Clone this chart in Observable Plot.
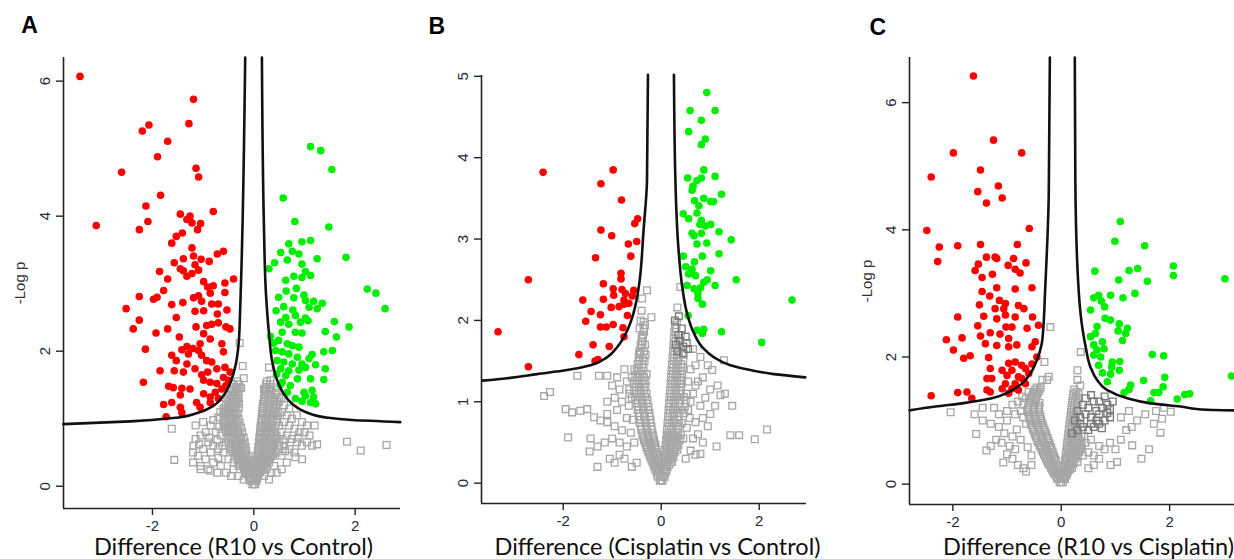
<!DOCTYPE html>
<html>
<head>
<meta charset="utf-8">
<script src="https://cdn.jsdelivr.net/npm/d3@7"></script>
<script src="https://cdn.jsdelivr.net/npm/@observablehq/plot@0.6"></script>
<style>
  html, body { margin: 0; padding: 0; background: #fff; }
  #chart { position: relative; width: 1234px; height: 559px; overflow: hidden; }
  #chart svg { position: absolute; top: 0; }
</style>
</head>
<body>
<div id="chart"></div>
<script>
// ---------------- Panel A: R10 vs Control ----------------
const letterA = "A";
const titleA = "Difference (R10 vs Control)";
const yLabel = "-Log p";
const xTicksA = [-2, 0, 2];
const yTicksA = [0, 2, 4, 6];
const redA = [[-3.43,6.07],[-1.19,5.73],[-1.28,5.37],[-2.07,5.35],[-2.20,5.26],[-1.70,5.11],[-1.90,4.88],[-2.61,4.65],[-1.14,4.71],[-1.09,4.58],[-1.84,4.31],[-2.13,4.15],[-0.80,4.07],[-1.45,4.03],[-3.11,3.86],[-2.09,3.92],[-2.26,3.80],[-1.26,4.00],[-1.32,3.95],[-1.22,3.90],[-1.05,3.89],[-1.11,3.80],[-1.41,3.75],[-1.53,3.70],[-1.62,3.60],[-0.60,3.48],[-0.72,3.44],[-1.22,3.53],[-1.39,3.37],[-1.19,3.41],[-1.57,3.31],[-1.04,3.36],[-0.88,3.33],[-1.45,3.22],[-1.39,3.19],[-1.16,3.28],[-1.09,3.20],[-1.22,3.15],[-1.86,3.18],[-1.70,3.07],[-1.32,3.11],[-0.99,3.03],[-0.40,3.07],[-0.57,3.01],[-0.91,2.95],[-0.80,2.97],[-1.78,2.90],[-2.26,2.81],[-1.98,2.77],[-1.91,2.80],[-1.62,2.69],[-1.40,2.72],[-1.19,2.79],[-1.09,2.82],[-0.86,2.86],[-0.57,2.87],[-1.03,2.74],[-0.83,2.70],[-2.52,2.63],[-1.16,2.59],[-0.99,2.60],[-0.70,2.70],[-0.53,2.61],[-1.53,2.50],[-0.72,2.55],[-2.26,2.46],[-2.38,2.33],[-1.93,2.27],[-1.70,2.33],[-1.47,2.21],[-1.14,2.36],[-0.93,2.38],[-0.83,2.40],[-0.70,2.42],[-0.55,2.36],[-0.47,2.33],[-0.99,2.26],[-0.86,2.18],[-0.63,2.11],[-1.06,2.11],[-2.14,2.03],[-1.42,2.02],[-1.32,2.07],[-1.20,2.04],[-1.09,2.01],[-1.62,1.94],[-1.53,1.86],[-1.29,1.96],[-1.03,1.94],[-0.93,1.86],[-0.83,1.84],[-0.60,1.99],[-0.57,1.76],[-1.32,1.81],[-1.85,1.71],[-1.57,1.71],[-1.39,1.69],[-1.16,1.74],[-1.03,1.65],[-0.91,1.69],[-0.73,1.74],[-0.47,1.69],[-2.18,1.54],[-1.68,1.48],[-1.59,1.46],[-1.42,1.45],[-1.26,1.44],[-0.99,1.57],[-0.86,1.54],[-0.73,1.52],[-0.60,1.61],[-0.50,1.57],[-1.45,1.35],[-1.78,1.21],[-1.62,1.24],[-1.45,1.17],[-1.13,1.24],[-0.99,1.37],[-0.86,1.32],[-0.76,1.39],[-0.63,1.44],[-0.55,1.49],[-1.06,1.17],[-1.73,1.03],[-1.42,1.09],[-0.86,1.24],[-0.70,1.30]];
const greenA = [[1.12,5.03],[1.32,4.97],[1.54,4.69],[0.58,4.27],[0.81,3.92],[1.48,3.84],[0.69,3.59],[0.95,3.62],[1.12,3.64],[0.53,3.46],[0.76,3.48],[0.89,3.44],[0.66,3.35],[1.25,3.37],[1.82,3.39],[0.41,3.31],[0.30,3.22],[0.95,3.29],[1.02,3.18],[0.79,3.11],[0.63,3.05],[0.95,3.09],[1.12,3.12],[0.84,2.93],[2.24,2.92],[2.41,2.86],[2.59,2.63],[0.49,2.80],[0.64,2.89],[0.79,2.79],[0.99,2.83],[1.02,2.75],[1.18,2.74],[1.35,2.71],[1.09,2.65],[1.25,2.63],[0.44,2.60],[0.59,2.66],[0.77,2.61],[0.63,2.50],[0.82,2.53],[1.02,2.49],[0.53,2.43],[0.69,2.40],[0.92,2.43],[1.07,2.45],[1.59,2.44],[1.88,2.36],[0.56,2.28],[0.82,2.28],[0.95,2.27],[1.41,2.29],[1.63,2.21],[0.33,2.22],[0.39,2.12],[0.49,2.16],[0.66,2.11],[0.76,2.08],[0.89,2.06],[0.43,2.01],[0.56,1.99],[0.69,1.96],[0.86,1.91],[1.15,1.95],[1.38,1.99],[1.55,2.01],[1.09,1.89],[0.46,1.86],[0.59,1.84],[0.76,1.81],[0.95,1.81],[1.22,1.80],[0.53,1.74],[0.69,1.71],[0.89,1.72],[1.02,1.76],[1.41,1.74],[0.45,1.66],[0.63,1.64],[0.86,1.59],[1.12,1.59],[1.38,1.58],[0.56,1.54],[0.72,1.49],[0.52,1.50],[0.66,1.39],[0.99,1.39],[1.15,1.42],[1.02,1.34],[1.18,1.32],[0.82,1.30],[1.12,1.24],[1.22,1.22],[0.95,1.26]];
// dense centre of the grey "V": rows of [-log p, [differences...]]
const grayCoreA = [
  [0.03,[-0.03,0,0.03]],[0.08,[-0.07,-0.03,0.01,0.05]],[0.13,[-0.1,-0.06,0.03,0.07]],
  [0.18,[-0.14,-0.09,-0.04,0.05,0.1]],[0.24,[-0.18,-0.12,-0.07,0.06,0.11,0.16]],
  [0.3,[-0.22,-0.15,-0.09,0.07,0.13,0.19]],[0.36,[-0.26,-0.19,-0.12,0.08,0.15,0.22]],
  [0.42,[-0.3,-0.22,-0.14,0.09,0.16,0.24,0.32]],[0.48,[-0.34,-0.26,-0.17,0.1,0.18,0.26,0.34]],
  [0.55,[-0.38,-0.29,-0.2,0.11,0.19,0.28,0.37]],[0.62,[-0.42,-0.32,-0.22,0.12,0.2,0.3,0.4]],
  [0.69,[-0.45,-0.35,-0.25,0.13,0.22,0.32,0.42]],[0.76,[-0.48,-0.38,-0.28,0.14,0.23,0.34]],
  [0.83,[-0.5,-0.4,-0.3,0.15,0.24,0.35]],[0.9,[-0.52,-0.42,-0.32,0.16,0.26,0.36]],
  [0.97,[-0.54,-0.44,-0.34,0.17,0.27,0.38]],[1.04,[-0.55,-0.45,-0.36,0.18,0.28,0.4]],
  [1.11,[-0.56,-0.46,-0.38,0.19,0.3,0.42]],[1.18,[-0.5,-0.42,-0.35,0.2,0.31,0.44]],
  [1.25,[-0.48,-0.4,-0.33,0.21,0.32,0.46]],[1.32,[-0.44,-0.36,0.22,0.33,0.5]],
  [1.4,[-0.4,-0.32,0.23,0.34]],[1.47,[-0.36,-0.28,0.25,0.35]],[1.55,[-0.32,0.26]],
  [0.11,[-0.08,-0.01,0.06]],[0.21,[-0.16,-0.11,-0.06,0.08,0.13]],[0.27,[-0.2,-0.14,-0.08,0.04,0.09,0.14,0.2]],
  [0.33,[-0.28,-0.2,-0.13,-0.06,0.05,0.1,0.17,0.24]],[0.39,[-0.32,-0.24,-0.16,-0.08,0.06,0.12,0.19,0.27]],
  [0.45,[-0.38,-0.3,-0.2,-0.1,0.07,0.13,0.21,0.29,0.38]],[0.52,[-0.42,-0.33,-0.24,-0.15,0.08,0.15,0.23,0.32,0.42]],
  [0.58,[-0.46,-0.35,-0.25,-0.16,0.09,0.16,0.25,0.34]],[0.65,[-0.5,-0.38,-0.28,-0.18,0.1,0.17,0.27,0.36,0.46]],
  [0.72,[-0.52,-0.41,-0.3,-0.2,0.11,0.19,0.29,0.38]],[0.8,[-0.55,-0.44,-0.33,-0.23,0.12,0.2,0.3,0.4]],
  [0.87,[-0.57,-0.46,-0.36,-0.25,0.13,0.21,0.31,0.42]],[0.94,[-0.58,-0.48,-0.38,-0.28,0.14,0.22,0.33,0.44]],
  [1.0,[-0.6,-0.5,-0.4,-0.3,0.15,0.24,0.34,0.46]],[1.08,[-0.6,-0.5,-0.41,-0.32,0.16,0.25,0.36,0.48]],
  [1.15,[-0.58,-0.47,-0.39,-0.3,0.17,0.26,0.38]],[1.22,[-0.55,-0.45,-0.37,-0.29,0.18,0.27,0.39]],
  [1.29,[-0.52,-0.42,-0.34,0.2,0.28,0.4]],[1.36,[-0.48,-0.38,-0.3,0.21,0.3,0.42]],
  [1.44,[-0.44,-0.34,0.22,0.31]],[1.51,[-0.4,-0.3,0.24,0.32]]
];
const grayA = [[-0.3,0.3],[-0.4,0.35],[-0.5,0.4],[-0.35,0.5],[-0.45,0.55],[-0.6,0.5],[-0.7,0.55],[-0.55,0.65],[-0.8,0.6],[-0.9,0.65],[-0.65,0.75],[-0.75,0.8],[-0.95,0.8],[-1.05,0.75],[-1.15,0.7],[-0.5,0.85],[-0.6,0.9],[-0.85,0.9],[-1.0,0.95],[-1.15,0.9],[-0.45,1.0],[-0.55,1.05],[-0.7,1.02],[-0.5,1.15],[-0.6,1.15],[-0.3,1.3],[-0.25,1.45],[-0.2,1.6],[-0.28,2.12],[-0.22,1.78],[-1.2,0.5],[-1.1,0.45],[-0.95,0.4],[-0.8,0.35],[-0.65,0.3],[-1.05,0.3],[-1.2,0.35],[-0.9,0.25],[-0.72,0.2],[-0.55,0.2],[-0.45,0.15],[-1.57,0.39],[-1.62,0.85],[-1.05,0.25],[-0.86,0.23],[-0.4,0.25],[-0.3,0.15],[-0.2,0.1],[-1.19,0.6],[-1.0,0.55],[-0.85,0.5],[-0.7,0.42],[-0.62,0.6],[-0.72,0.68],[-0.88,0.72],[-1.08,0.62],[-0.68,0.88],[-0.8,0.98],[-0.66,1.1],
[0.25,0.25],[0.3,0.35],[0.4,0.3],[0.35,0.45],[0.45,0.5],[0.55,0.45],[0.4,0.6],[0.5,0.65],[0.6,0.6],[0.7,0.55],[0.8,0.5],[0.45,0.75],[0.55,0.8],[0.65,0.75],[0.75,0.7],[0.85,0.65],[0.95,0.6],[1.05,0.65],[1.15,0.6],[1.25,0.62],[0.5,0.9],[0.6,0.95],[0.7,0.9],[0.8,0.85],[0.9,0.8],[1.0,0.8],[1.1,0.75],[1.2,0.9],[0.45,1.05],[0.55,1.1],[0.65,1.05],[0.75,1.0],[0.4,1.2],[0.5,1.25],[0.6,1.2],[0.35,1.35],[0.45,1.38],[0.3,1.76],[0.33,1.57],[0.3,1.42],[0.2,1.44],[1.84,0.66],[2.11,0.53],[2.62,0.61],[0.95,0.4],[0.82,0.43],[0.35,0.2],[0.45,0.2],[0.55,0.25],[0.65,0.35],[0.3,0.1],[0.2,0.15],[0.55,1.3],[0.7,1.15],[0.85,1.05],[0.95,0.95],[1.05,0.9],[0.62,0.52],[0.72,0.65],[0.88,0.72],[0.5,0.55],[0.58,0.68]];
const curveLeftA = [[-0.17,6.35],[-0.24,3.34],[-0.27,2.60],[-0.30,2.11],[-0.37,1.76],[-0.47,1.52],[-0.60,1.34],[-0.80,1.19],[-1.13,1.08],[-1.59,1.01],[-2.44,0.96],[-3.76,0.92]];
const curveRightA = [[0.16,6.35],[0.20,3.84],[0.24,2.85],[0.30,2.26],[0.36,1.86],[0.46,1.57],[0.59,1.37],[0.76,1.22],[1.02,1.10],[1.41,1.02],[1.94,0.98],[2.89,0.95]];

// ---------------- Panel B: Cisplatin vs Control ----------------
const letterB = "B";
const titleB = "Difference (Cisplatin vs Control)";
const xTicksB = [-2, 0, 2];
const yTicksB = [0, 1, 2, 3, 4, 5];
const redB = [[-2.41,3.82],[-0.98,3.85],[-1.23,3.68],[-0.81,3.48],[-0.48,3.25],[-0.54,3.19],[-1.23,3.11],[-1.01,3.04],[-0.67,2.94],[-0.50,2.97],[-1.34,2.77],[-0.62,2.79],[-2.71,2.50],[-0.82,2.58],[-0.82,2.51],[-1.18,2.45],[-0.98,2.39],[-0.80,2.38],[-0.73,2.33],[-0.56,2.37],[-0.59,2.30],[-1.60,2.25],[-1.18,2.26],[-0.97,2.31],[-0.76,2.25],[-0.66,2.21],[-1.43,2.11],[-1.02,2.16],[-0.86,2.17],[-0.76,2.20],[-1.24,2.07],[-0.69,2.06],[-1.54,1.99],[-1.24,1.92],[-1.12,1.92],[-0.98,1.95],[-0.78,1.91],[-3.33,1.86],[-0.76,1.80],[-1.39,1.70],[-1.06,1.68],[-1.68,1.58],[-1.35,1.50],[-1.29,1.52],[-2.71,1.43]];
const greenB = [[0.93,4.80],[0.59,4.58],[1.10,4.58],[0.82,4.46],[0.56,4.32],[0.90,4.23],[0.82,4.16],[0.87,3.85],[0.54,3.75],[0.73,3.72],[0.82,3.75],[1.10,3.77],[0.65,3.65],[0.63,3.60],[1.23,3.55],[0.87,3.50],[0.68,3.47],[0.77,3.41],[1.01,3.46],[1.07,3.46],[0.45,3.31],[0.56,3.25],[0.73,3.32],[0.82,3.23],[0.79,3.18],[0.90,3.16],[1.01,3.18],[0.63,3.07],[0.67,3.04],[0.82,3.07],[1.18,3.09],[0.73,2.94],[0.93,2.95],[1.43,2.99],[1.18,2.82],[0.45,2.79],[0.84,2.79],[0.68,2.72],[0.50,2.66],[0.63,2.63],[1.01,2.61],[0.56,2.57],[0.70,2.55],[0.87,2.47],[0.94,2.50],[1.53,2.50],[0.53,2.43],[0.67,2.39],[0.80,2.40],[1.10,2.43],[0.75,2.33],[0.75,2.27],[0.84,2.20],[2.67,2.25],[0.55,2.06],[0.73,1.88],[0.87,1.89],[1.23,1.86],[2.05,1.73],[0.84,1.84]];
const grayCoreB = [
  [0.03,[-0.03,0,0.03]],[0.08,[-0.07,-0.02,0.03,0.07]],[0.14,[-0.1,-0.05,0.05,0.1]],
  [0.2,[-0.14,-0.08,0.07,0.13]],[0.26,[-0.18,-0.11,0.08,0.15,0.22]],[0.32,[-0.22,-0.14,0.1,0.17,0.25]],
  [0.38,[-0.26,-0.17,-0.1,0.11,0.19,0.28]],[0.44,[-0.3,-0.2,-0.12,0.12,0.2,0.3]],
  [0.5,[-0.33,-0.23,-0.14,0.13,0.21,0.32]],[0.56,[-0.36,-0.26,-0.16,0.14,0.22,0.33]],
  [0.62,[-0.38,-0.28,-0.18,0.15,0.23,0.34]],[0.7,[-0.4,-0.3,-0.2,0.16,0.25,0.35]],
  [0.78,[-0.42,-0.32,-0.22,0.17,0.26,0.36]],[0.86,[-0.44,-0.34,-0.24,0.18,0.27,0.37,0.46]],
  [0.94,[-0.46,-0.36,-0.26,0.19,0.28,0.38,0.48]],[1.02,[-0.48,-0.38,-0.28,0.2,0.29,0.39,0.5]],
  [1.1,[-0.5,-0.4,-0.3,0.21,0.3,0.4,0.52]],[1.18,[-0.52,-0.42,-0.32,0.22,0.31,0.41]],
  [1.26,[-0.5,-0.4,-0.32,0.23,0.32,0.42]],[1.34,[-0.48,-0.38,-0.3,0.24,0.33,0.43]],
  [1.42,[-0.46,-0.36,0.25,0.34,0.44]],[1.5,[-0.44,-0.34,0.26,0.35,0.45]],
  [1.58,[-0.42,-0.32,0.27,0.36,0.46]],[1.66,[-0.4,0.28,0.37]],[1.74,[-0.38,0.29,0.38]],
  [1.82,[-0.37,0.3,0.4]],[1.9,[-0.36,0.31]],[1.98,[-0.36,0.32]],
  [0.11,[-0.08,-0.01,0.06]],[0.17,[-0.12,-0.06,0.06,0.11]],[0.23,[-0.16,-0.1,-0.04,0.05,0.11,0.17]],
  [0.29,[-0.2,-0.13,-0.06,0.06,0.13,0.2]],[0.35,[-0.24,-0.16,-0.08,0.07,0.15,0.23]],
  [0.41,[-0.28,-0.19,-0.1,0.08,0.16,0.25,0.33]],[0.47,[-0.31,-0.22,-0.12,0.09,0.17,0.26,0.35]],
  [0.53,[-0.35,-0.25,-0.15,0.1,0.18,0.28,0.38]],[0.59,[-0.38,-0.27,-0.17,0.11,0.19,0.29,0.4]],
  [0.66,[-0.41,-0.3,-0.2,0.12,0.2,0.31]],[0.74,[-0.44,-0.33,-0.22,0.13,0.22,0.32,0.42]],
  [0.82,[-0.46,-0.35,-0.24,0.14,0.23,0.33]],[0.9,[-0.48,-0.37,-0.27,0.15,0.24,0.34,0.44]],
  [0.98,[-0.5,-0.4,-0.3,0.16,0.25,0.35]],[1.06,[-0.53,-0.43,-0.33,0.17,0.26,0.36,0.46]],
  [1.14,[-0.55,-0.45,-0.35,0.18,0.27,0.37]],[1.22,[-0.55,-0.46,-0.36,0.19,0.28,0.38]],
  [1.3,[-0.53,-0.44,-0.35,0.2,0.29,0.39]],[1.38,[-0.5,-0.41,0.21,0.3,0.4]],
  [1.46,[-0.48,-0.39,0.22,0.31,0.41]],[1.54,[-0.46,-0.37,0.23,0.32]],[1.62,[-0.44,-0.35,0.24,0.33]],
  [1.7,[-0.4,-0.33,0.25,0.34]],[1.78,[-0.38,0.26,0.35]],[1.86,[-0.35,0.27]],[1.94,[-0.33,0.28]]
];
const grayB = [[-0.45,1.6],[-0.42,1.7],[-0.4,1.8],[-0.44,1.9],[-0.42,2.0],[-0.39,2.27],[-0.29,2.37],[-0.2,2.04],[-0.4,2.12],[0.33,2.16],[0.39,2.41],[0.3,1.9],
[-0.6,1.05],[-0.65,1.15],[-0.7,1.25],[-0.6,1.3],[-0.55,1.4],[-0.65,1.1],[0.55,0.9],[0.6,1.0],[0.65,1.1],[0.7,1.2],[0.55,1.25],[0.6,1.4],[0.7,1.45],
[-0.75,0.3],[-0.85,0.35],[-0.95,0.25],[-0.7,0.45],[-0.85,0.5],[-1.0,0.55],[-1.15,0.5],[-1.3,0.45],[-1.44,0.55],[-0.8,0.65],[-0.95,0.7],[-1.1,0.75],[-1.24,0.77],[-1.37,0.81],[-1.1,0.85],[-1.51,0.91],[-1.65,0.89],[-1.82,0.87],[-1.95,0.91],[-0.9,0.9],[-0.8,1.0],[-0.95,1.05],[-1.1,1.0],[-0.85,1.15],[-1.0,1.2],[-1.1,1.32],[-1.27,1.32],[-1.71,1.32],[-2.39,1.07],[-2.27,1.12],[-1.9,0.56],[-1.46,0.39],[-1.3,0.2],[-1.05,0.3],[-0.6,0.2],[-0.5,0.25],[-0.9,1.3],[-0.75,1.4],[-0.55,0.5],[-0.62,0.62],[-0.7,0.8],[-0.58,0.78],[-0.66,0.95],
[0.5,0.3],[0.6,0.4],[0.7,0.35],[0.8,0.36],[0.65,0.55],[0.75,0.6],[0.85,0.5],[0.95,0.7],[0.7,0.75],[0.85,0.8],[1.0,0.85],[1.1,0.95],[0.8,0.95],[0.9,1.05],[1.0,1.15],[0.75,1.25],[0.85,1.3],[0.95,1.45],[1.04,1.39],[1.21,1.08],[1.45,0.95],[1.28,1.51],[1.41,0.59],[1.59,0.59],[1.91,0.54],[2.16,0.66],[1.13,0.45],[0.8,1.55],[0.65,1.65],[1.15,1.2],[1.3,1.1],[0.45,0.55],[0.52,0.68],[0.58,0.8]];
const darkB = [[0.3,1.7],[0.38,1.75],[0.45,1.68],[0.52,1.72],[0.35,1.82],[0.42,1.9],[0.5,1.8],[0.28,2.0],[0.36,2.05],[0.55,1.65],[0.44,1.6],[0.33,1.62]];
const curveLeftB = [[-0.27,5.02],[-0.29,3.72],[-0.36,3.11],[-0.44,2.49],[-0.49,2.29],[-0.57,2.08],[-0.69,1.88],[-0.90,1.67],[-1.10,1.55],[-1.44,1.45],[-1.92,1.39],[-2.53,1.34],[-3.14,1.29],[-3.65,1.26]];
const curveRightB = [[0.26,5.02],[0.29,3.72],[0.35,2.90],[0.43,2.41],[0.53,2.08],[0.67,1.84],[0.84,1.67],[1.07,1.55],[1.41,1.45],[1.82,1.39],[2.30,1.34],[2.94,1.30]];

// ---------------- Panel C: R10 vs Cisplatin ----------------
const letterC = "C";
const titleC = "Difference (R10 vs Cisplatin)";
const xTicksC = [-2, 0, 2];
const yTicksC = [0, 2, 4, 6];
const redC = [[-1.62,6.42],[-1.25,5.41],[-1.99,5.21],[-0.73,5.21],[-1.49,4.94],[-2.40,4.83],[-1.16,4.69],[-1.54,4.60],[-1.09,4.50],[-1.38,4.42],[-2.48,3.99],[-0.59,4.02],[-2.25,3.73],[-1.91,3.75],[-1.49,3.77],[-0.81,3.77],[-2.28,3.50],[-1.38,3.57],[-1.22,3.57],[-1.19,3.55],[-0.88,3.55],[-0.65,3.48],[-1.53,3.46],[-0.98,3.44],[-0.85,3.38],[-1.59,3.36],[-0.76,3.32],[-1.46,3.25],[-1.27,3.30],[-0.54,3.09],[-1.19,3.09],[-0.85,3.07],[-1.46,3.03],[-1.32,2.96],[-1.14,2.89],[-1.03,2.84],[-0.79,2.81],[-1.51,2.82],[-1.22,2.76],[-1.06,2.76],[-0.69,2.76],[-1.43,2.64],[-1.91,2.63],[-1.19,2.60],[-1.03,2.66],[-0.85,2.63],[-0.53,2.63],[-0.42,2.50],[-1.54,2.49],[-1.02,2.47],[-0.91,2.47],[-0.63,2.45],[-2.12,2.27],[-1.83,2.30],[-1.49,2.33],[-1.31,2.38],[-1.13,2.36],[-0.97,2.29],[-0.48,2.24],[-1.99,2.11],[-1.40,2.21],[-1.19,2.18],[-0.97,2.16],[-0.82,2.19],[-0.54,2.16],[-1.80,1.98],[-1.68,2.02],[-1.34,1.99],[-0.97,1.90],[-0.85,1.92],[-0.73,1.87],[-0.54,1.89],[-0.45,2.00],[-1.31,1.82],[-1.09,1.79],[-0.91,1.79],[-0.66,1.82],[-1.28,1.66],[-1.00,1.71],[-0.79,1.69],[-0.60,1.74],[-1.37,1.66],[-1.03,1.58],[-0.85,1.58],[-0.66,1.58],[-1.09,1.50],[-0.91,1.50],[-0.73,1.66],[-2.40,1.39],[-1.91,1.44],[-1.74,1.45],[-1.65,1.35],[-1.37,1.48],[-1.31,1.45],[-0.97,1.43],[-0.79,1.48]];
const greenC = [[1.09,4.13],[0.99,3.82],[1.54,3.75],[0.62,3.35],[1.25,3.36],[1.41,3.39],[2.07,3.43],[2.07,3.28],[3.02,3.23],[1.06,3.21],[1.59,3.19],[1.36,3.00],[0.91,2.97],[1.14,2.93],[0.60,2.93],[0.69,2.97],[0.74,2.88],[0.80,2.79],[0.54,2.74],[0.81,2.61],[0.91,2.58],[0.66,2.48],[1.07,2.52],[1.22,2.45],[1.05,2.41],[1.19,2.37],[1.13,2.26],[0.54,2.32],[0.63,2.37],[0.60,2.19],[0.76,2.24],[0.66,2.11],[0.79,2.13],[1.68,2.04],[1.89,2.02],[0.60,2.03],[0.73,2.00],[0.94,1.92],[1.08,1.93],[0.69,1.87],[0.93,1.84],[1.07,1.79],[0.76,1.75],[0.91,1.73],[0.85,1.61],[1.52,1.63],[1.91,1.68],[3.14,1.70],[1.28,1.56],[1.25,1.49],[1.16,1.44],[1.88,1.53],[1.71,1.44],[1.80,1.44],[1.65,1.31],[2.14,1.34],[2.28,1.41],[2.37,1.42]];
const grayCoreC = [
  [0.03,[-0.03,0,0.03]],[0.08,[-0.07,-0.02,0.03,0.07]],[0.14,[-0.11,-0.05,0.04,0.1]],
  [0.2,[-0.15,-0.09,0.06,0.12]],[0.26,[-0.19,-0.12,0.07,0.14,0.2]],[0.33,[-0.24,-0.16,0.09,0.16,0.23]],
  [0.4,[-0.28,-0.2,-0.12,0.1,0.18,0.26]],[0.47,[-0.32,-0.24,-0.15,0.12,0.2,0.28]],
  [0.54,[-0.36,-0.27,-0.18,0.13,0.22,0.3]],[0.61,[-0.4,-0.3,-0.21,0.15,0.24,0.33]],
  [0.68,[-0.44,-0.34,-0.24,0.16,0.25,0.35]],[0.75,[-0.47,-0.37,-0.27,0.17,0.27,0.37]],
  [0.82,[-0.5,-0.4,-0.3,0.18,0.28]],[0.89,[-0.53,-0.43,-0.33,0.19,0.29]],
  [0.96,[-0.56,-0.46,-0.36,0.2,0.3]],[1.03,[-0.58,-0.48,-0.38,0.21]],
  [1.1,[-0.6,-0.5,-0.4,0.22]],[1.17,[-0.62,-0.52,-0.42,0.23]],[1.24,[-0.6,-0.5,-0.42,0.24]],
  [1.31,[-0.58,-0.48,0.25]],[1.38,[-0.55,-0.46,0.27]],[1.45,[-0.5,-0.42,0.28]],[1.52,[-0.45,-0.38]],
  [0.11,[-0.08,-0.01,0.06]],[0.17,[-0.13,-0.07,0.05,0.11]],[0.23,[-0.17,-0.11,-0.05,0.05,0.1,0.16]],
  [0.3,[-0.22,-0.15,-0.08,0.06,0.12,0.18]],[0.37,[-0.26,-0.18,-0.1,0.07,0.14,0.21]],
  [0.44,[-0.3,-0.22,-0.13,0.08,0.15,0.23,0.31]],[0.51,[-0.34,-0.25,-0.16,0.09,0.17,0.25,0.33]],
  [0.58,[-0.38,-0.29,-0.19,0.1,0.18,0.27,0.36]],[0.65,[-0.42,-0.32,-0.22,0.11,0.2,0.29]],
  [0.72,[-0.45,-0.35,-0.25,0.12,0.21,0.31]],[0.79,[-0.48,-0.38,-0.28,0.13,0.22,0.32]],
  [0.86,[-0.52,-0.41,-0.31,0.14,0.24]],[0.93,[-0.55,-0.44,-0.34,0.15,0.25]],
  [1.0,[-0.57,-0.47,-0.37,0.16,0.26]],[1.07,[-0.59,-0.49,-0.39,0.17,0.27]],
  [1.14,[-0.61,-0.51,-0.41,0.18,0.28]],[1.21,[-0.61,-0.51,-0.41,0.19,0.29]],
  [1.28,[-0.59,-0.49,-0.4,0.2,0.3]],[1.35,[-0.56,-0.47,0.21,0.31]],
  [1.42,[-0.52,-0.44,0.22,0.32]],[1.49,[-0.48,-0.4,0.24]]
];
const grayC = [[0.35,1.55],[0.3,1.64],[-0.35,1.64],[-0.26,1.64],[-0.23,1.69],[-0.31,1.92],[-0.2,2.47],[0.36,2.08],[0.3,1.79],
[-0.65,0.95],[-0.7,1.05],[-0.75,1.15],[-0.7,1.25],[-0.65,1.35],[-0.6,1.45],[-0.8,1.3],[-0.72,1.38],
[-0.8,0.3],[-0.9,0.4],[-1.0,0.47],[-1.07,0.34],[-0.85,0.55],[-0.95,0.6],[-1.1,0.65],[-1.2,0.7],[-0.9,0.75],[-1.05,0.8],[-1.15,0.9],[-1.3,0.95],[-1.45,1.0],[-1.0,1.0],[-0.85,1.1],[-1.0,1.15],[-1.15,1.1],[-1.24,1.2],[-0.9,1.25],[-1.57,0.79],[-1.38,0.53],[-2.04,1.13],[-0.65,0.2],[-0.7,0.25],[-0.55,0.3],[-1.3,0.6],[-1.6,1.1],[-1.45,1.2],[-0.55,0.45],[-0.62,0.58],[-0.75,0.7],[-0.82,0.86],
[0.2,0.3],[0.3,0.35],[0.4,0.45],[0.35,0.55],[0.5,0.5],[0.6,0.45],[0.45,0.65],[0.55,0.7],[0.7,0.6],[0.8,0.55],[0.91,0.3],[1.03,0.35],[1.31,0.61],[1.48,0.4],[1.62,0.55],[1.83,0.81],[2.02,1.14],[1.86,1.03],[1.71,0.95],[1.1,0.7],[1.2,0.85],[1.3,0.9],[1.4,1.0],[1.55,1.1],[1.75,1.15],[1.9,1.2],[1.1,1.05],[1.25,1.15],[0.9,0.65],[1.0,0.55],[0.7,0.4],[0.6,0.3],[0.5,0.25],[0.38,0.62],[0.42,0.75]];
const darkC = [[0.2,0.8],[0.3,0.85],[0.4,0.9],[0.5,0.85],[0.6,0.9],[0.7,0.95],[0.8,1.0],[0.9,1.05],[0.25,1.0],[0.35,1.05],[0.45,1.1],[0.55,1.05],[0.65,1.15],[0.75,1.2],[0.85,1.25],[0.95,1.3],[0.5,1.2],[0.6,1.3],[0.4,1.25],[0.3,1.15],[0.7,1.1],[0.85,1.12],[0.55,0.95],[0.45,1.35],[0.35,0.95],[0.65,1.0],[0.75,0.88],[0.9,1.18],[0.55,1.4],[0.7,1.3],[0.8,1.38]];
const curveLeftC = [[-0.21,6.71],[-0.23,4.57],[-0.30,3.00],[-0.33,2.47],[-0.36,2.21],[-0.45,1.95],[-0.57,1.74],[-0.73,1.58],[-0.97,1.45],[-1.28,1.35],[-1.83,1.27],[-2.32,1.22],[-2.80,1.16]];
const curveRightC = [[0.25,6.71],[0.26,4.78],[0.31,3.21],[0.37,2.58],[0.45,2.16],[0.54,1.84],[0.66,1.64],[0.85,1.48],[1.22,1.35],[1.65,1.27],[2.20,1.22],[2.69,1.17],[3.20,1.16]];

// ---------------- drawing ----------------
const tickFont = "Liberation Sans, Arial, sans-serif";
const titleFont = "Lato, 'Open Sans', sans-serif";
const px = d => d[0], py = d => d[1];
const rowsToPoints = rows => rows.flatMap(([y, xs]) => xs.map(x => [x, y]));

function panel(o) {
  const xmin = o.xDomain[0], ymin = o.yDomain[0];
  const gray = rowsToPoints(o.core).concat(o.gray);
  const sq = {x: px, y: py, symbol: "square", r: 3.8, fill: "none", strokeWidth: 1.3};
  const marks = [Plot.dot(gray, {...sq, stroke: "#a6a6a6"})];
  if (o.dark) marks.push(Plot.dot(o.dark, {...sq, stroke: "#787878"}));
  marks.push(
    Plot.dot(o.red, {x: px, y: py, r: 3.8, fill: "#ff0000", stroke: null}),
    Plot.dot(o.green, {x: px, y: py, r: 3.8, fill: "#00ee00", stroke: null}),
    Plot.line(o.curveL, {x: px, y: py, stroke: "#111", strokeWidth: 2.6, curve: "monotone-y"}),
    Plot.line(o.curveR, {x: px, y: py, stroke: "#111", strokeWidth: 2.6, curve: "monotone-y"}),
    Plot.ruleX([xmin], {stroke: "#222", strokeWidth: 1.6}),
    Plot.ruleY([ymin], {stroke: "#222", strokeWidth: 1.6}),
    Plot.axisY({ticks: o.yTicks, tickSize: 7, tickFormat: () => "", stroke: "#222", strokeWidth: 1.4, label: null}),
    Plot.text(o.yTicks, {x: () => xmin, y: d => d, text: d => String(d), rotate: -90, dx: -18.5, fontSize: 15, fill: "#1e2a3c", textAnchor: "middle", lineAnchor: "middle"}),
    Plot.axisX({ticks: o.xTicks, tickSize: 7, tickPadding: 5, tickFormat: d => String(d), fontSize: 15, fill: "#1e2a3c", stroke: "#222", strokeWidth: 1.4, label: null}),
    Plot.text([o.title], {frameAnchor: "bottom", dx: o.titleDx, dy: o.titleDy, fontSize: 23.5, fontFamily: titleFont, fill: "#111", textAnchor: "middle", lineAnchor: "middle"}),
    Plot.text([o.letter], {frameAnchor: "top-left", dx: o.letterDx, dy: o.letterDy, fontSize: 23, fontWeight: "bold", fill: "#000", textAnchor: "start", lineAnchor: "top"})
  );
  if (o.ylabel) marks.push(Plot.text([o.ylabel], {frameAnchor: "left", dx: o.ylabelDx, rotate: -90, fontSize: 15, fill: "#333", textAnchor: "middle", lineAnchor: "middle"}));
  const svg = Plot.plot({
    width: o.width, height: 559,
    marginLeft: o.ml, marginRight: o.mr, marginTop: o.mt, marginBottom: o.mb,
    x: {domain: o.xDomain}, y: {domain: o.yDomain},
    style: {fontFamily: tickFont, fontSize: "15px", background: "transparent", overflow: "visible"},
    marks
  });
  svg.style.left = o.left + "px";
  return svg;
}

const chart = document.getElementById("chart");
chart.appendChild(panel({
  left: 0, width: 410, ml: 63, mr: 10, mt: 57, mb: 51,
  xDomain: [-3.756, 2.895], yDomain: [-0.33, 6.35],
  xTicks: xTicksA, yTicks: yTicksA,
  red: redA, green: greenA, core: grayCoreA, gray: grayA, curveL: curveLeftA, curveR: curveRightA,
  title: titleA, titleDx: 1.5, titleDy: 39.3,
  letter: letterA, letterDx: -42.3, letterDy: -41,
  ylabel: yLabel, ylabelDx: -43
}));
chart.appendChild(panel({
  left: 410, width: 400, ml: 71, mr: 4, mt: 75, mb: 56,
  xDomain: [-3.667, 2.965], yDomain: [-0.25, 5.01],
  xTicks: xTicksB, yTicks: yTicksB,
  red: redB, green: greenB, core: grayCoreB, gray: grayB, dark: darkB, curveL: curveLeftB, curveR: curveRightB,
  title: titleB, titleDx: 13.5, titleDy: 44.3,
  letter: letterB, letterDx: -53, letterDy: -58.3
}));
chart.appendChild(panel({
  left: 820, width: 414, ml: 89, mr: 0, mt: 57, mb: 55,
  xDomain: [-2.80, 3.197], yDomain: [-0.32, 6.71],
  xTicks: xTicksC, yTicks: yTicksC,
  red: redC, green: greenC, core: grayCoreC, gray: grayC, dark: darkC, curveL: curveLeftC, curveR: curveRightC,
  title: titleC, titleDx: 16.5, titleDy: 43.3,
  letter: letterC, letterDx: -40, letterDy: -39,
  ylabel: yLabel, ylabelDx: -42
}));
</script>
</body>
</html>
